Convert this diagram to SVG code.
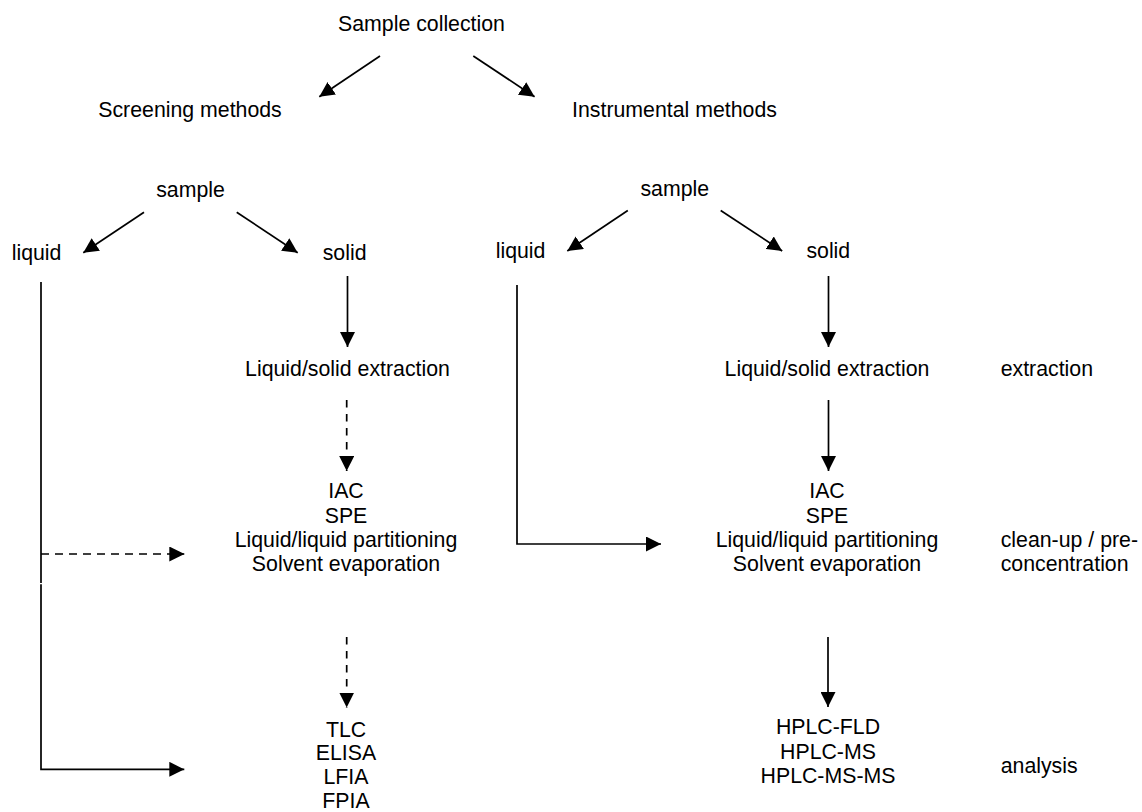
<svg xmlns="http://www.w3.org/2000/svg" width="1142" height="812" viewBox="0 0 1142 812">
<defs>
<style>
text{font-family:"Liberation Sans",Arial,sans-serif;font-size:21.3px;fill:#000}
.c{text-anchor:middle}
.ln{fill:none;stroke:#000;stroke-width:1.7;stroke-linejoin:miter}
.d{stroke-dasharray:7.5 6.5}
.dh{stroke-dasharray:8 6}
</style>
<marker id="ah" markerUnits="userSpaceOnUse" markerWidth="15" markerHeight="15" refX="15" refY="7.5" orient="auto" viewBox="0 0 15 15">
<path d="M0,0 L15,7.5 L0,15 z" fill="#000"/>
</marker>
</defs>
<rect width="1142" height="812" fill="#fff"/>
<g id="n-collection"><text class="c" x="421.5" y="31">Sample collection</text></g>
<g id="n-screening"><text class="c" x="190" y="117">Screening methods</text></g>
<g id="n-instrumental"><text class="c" x="674.5" y="117">Instrumental methods</text></g>
<g id="n-sample-l"><text class="c" x="190.5" y="196.5">sample</text></g>
<g id="n-sample-r"><text class="c" x="674.8" y="196">sample</text></g>
<g id="n-liquid-l"><text x="11.7" y="260">liquid</text></g>
<g id="n-solid-l"><text class="c" x="344.6" y="260">solid</text></g>
<g id="n-liquid-r"><text x="495.7" y="258.3">liquid</text></g>
<g id="n-solid-r"><text class="c" x="828.3" y="258.3">solid</text></g>
<g id="n-lse-l"><text class="c" x="347.5" y="376">Liquid/solid extraction</text></g>
<g id="n-lse-r"><text class="c" x="827" y="376">Liquid/solid extraction</text></g>
<g id="n-cleanup-l">
<text class="c" x="346" y="498.3">IAC</text>
<text class="c" x="346" y="522.8">SPE</text>
<text class="c" x="346" y="546.8">Liquid/liquid partitioning</text>
<text class="c" x="346" y="571">Solvent evaporation</text>
</g>
<g id="n-cleanup-r">
<text class="c" x="827" y="498.3">IAC</text>
<text class="c" x="827" y="522.8">SPE</text>
<text class="c" x="827" y="546.8">Liquid/liquid partitioning</text>
<text class="c" x="827" y="571">Solvent evaporation</text>
</g>
<g id="n-analysis-l">
<text class="c" x="346" y="736.5">TLC</text>
<text class="c" x="346" y="760.3">ELISA</text>
<text class="c" x="346" y="784">LFIA</text>
<text class="c" x="346" y="807.5">FPIA</text>
</g>
<g id="n-analysis-r">
<text class="c" x="828" y="734.3">HPLC-FLD</text>
<text class="c" x="828" y="758.6">HPLC-MS</text>
<text class="c" x="828" y="783">HPLC-MS-MS</text>
</g>
<g id="n-step-extraction"><text x="1000.7" y="376">extraction</text></g>
<g id="n-step-cleanup"><text x="1000.7" y="546.7">clean-up / pre-</text><text x="1000.7" y="570.5">concentration</text></g>
<g id="n-step-analysis"><text x="1000.7" y="773">analysis</text></g>
<g id="connectors">
<line class="ln" x1="380" y1="56" x2="319.3" y2="96.7" marker-end="url(#ah)"/>
<line class="ln" x1="473.3" y1="56" x2="534.6" y2="96.7" marker-end="url(#ah)"/>
<line class="ln" x1="144" y1="212.3" x2="83.3" y2="252.7" marker-end="url(#ah)"/>
<line class="ln" x1="236.7" y1="212.3" x2="297.7" y2="252.7" marker-end="url(#ah)"/>
<line class="ln" x1="627.8" y1="210.5" x2="567.3" y2="251" marker-end="url(#ah)"/>
<line class="ln" x1="720.7" y1="210.5" x2="782.2" y2="251" marker-end="url(#ah)"/>
<line class="ln" x1="347.5" y1="276" x2="347.5" y2="347" marker-end="url(#ah)"/>
<line class="ln" x1="828.5" y1="276" x2="828.5" y2="347" marker-end="url(#ah)"/>
<line class="ln d" x1="346.7" y1="400" x2="346.7" y2="471" marker-end="url(#ah)"/>
<line class="ln" x1="828.5" y1="400" x2="828.5" y2="471" marker-end="url(#ah)"/>
<line class="ln d" x1="346.7" y1="637" x2="346.7" y2="707.5" marker-end="url(#ah)"/>
<line class="ln" x1="828" y1="637" x2="828" y2="707" marker-end="url(#ah)"/>
<line class="ln" x1="41" y1="282" x2="41" y2="583"/>
<line class="ln dh" x1="41" y1="554" x2="184.3" y2="554" marker-end="url(#ah)"/>
<path class="ln" d="M41,584.2 V769.3 H184.3" marker-end="url(#ah)"/>
<path class="ln" d="M517,285 V544 H661" marker-end="url(#ah)"/>
</g>
</svg>
